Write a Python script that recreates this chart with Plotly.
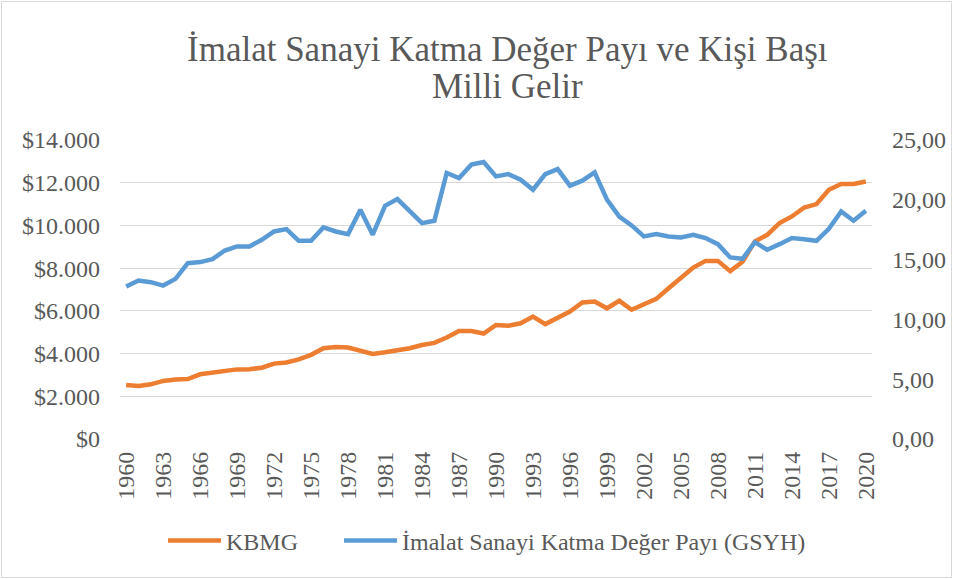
import plotly.graph_objects as go

years = list(range(1960, 2021))

kbmg = [2530, 2480, 2560, 2720, 2790, 2810, 3030, 3110, 3220, 3260,
        3270, 3340, 3530, 3580, 3730, 3940, 4250, 4310, 4280, 4120,
        3980, 4060, 4140, 4250, 4400, 4500, 4750, 5060, 5060, 4940,
        5340, 5300, 5420, 5730, 5380, 5660, 5970, 6390, 6440, 6120,
        6470, 6050, 6310, 6560, 7060, 7560, 8030, 8340, 8340, 7860,
        8300, 9250, 9560, 10110, 10420, 10840, 11000, 11670, 11940, 11940,
        12060]

imalat = [12.75, 13.25, 13.11, 12.83, 13.39, 14.70, 14.79, 15.04, 15.76, 16.10,
          16.10, 16.66, 17.35, 17.55, 16.57, 16.57, 17.69, 17.35, 17.13, 19.17,
          17.08, 19.50, 20.06, 19.08, 18.05, 18.25, 22.24, 21.82, 22.94, 23.16,
          21.96, 22.15, 21.68, 20.84, 22.15, 22.57, 21.18, 21.60, 22.29, 20.01,
          18.60, 17.86, 16.94, 17.13, 16.94, 16.85, 17.08, 16.80, 16.29, 15.18,
          15.07, 16.46, 15.82, 16.29, 16.80, 16.71, 16.57, 17.58, 19.03, 18.25,
          19.08]

title_lines = ["İmalat Sanayi Katma Değer Payı ve Kişi Başı", "Milli Gelir"]
series_names = ["KBMG", "İmalat Sanayi Katma Değer Payı (GSYH)"]
x_tickvals = list(range(1960, 2021, 3))
left_tickvals = [0, 2000, 4000, 6000, 8000, 10000, 12000, 14000]
left_ticktext = ["$0", "$2.000", "$4.000", "$6.000", "$8.000", "$10.000", "$12.000", "$14.000"]
right_tickvals = [0, 5, 10, 15, 20, 25]
right_ticktext = ["0,00", "5,00", "10,00", "15,00", "20,00", "25,00"]

FONT = "Times New Roman, Liberation Serif, serif"
GRAY = "#595959"

W, H = 953, 579
L, R, T, B = 120, 81, 140, 140
pw, ph = W - L - R, H - T - B


def py(Y):
    return (T + ph - Y) / ph


def px(X):
    return (X - L) / pw


fig = go.Figure()
fig.add_trace(go.Scatter(x=years, y=kbmg, name=series_names[0] + "\u00a0" * 6, mode="lines",
                         line=dict(color="#ED7D31", width=4.5), yaxis="y"))
fig.add_trace(go.Scatter(x=years, y=imalat, name=series_names[1],
                         mode="lines", line=dict(color="#5B9BD5", width=4.5), yaxis="y2"))

annotations = [
    dict(text=title_lines[0], xref="paper", yref="paper", x=px(507), y=py(49),
         xanchor="center", yanchor="middle", showarrow=False,
         font=dict(family=FONT, size=35, color=GRAY)),
    dict(text=title_lines[1], xref="paper", yref="paper", x=px(507), y=py(87),
         xanchor="center", yanchor="middle", showarrow=False,
         font=dict(family=FONT, size=35, color=GRAY)),
]

fig.update_layout(
    width=W, height=H,
    margin=dict(l=L, r=R, t=T, b=B, autoexpand=False),
    paper_bgcolor="white", plot_bgcolor="white",
    font=dict(family=FONT, color=GRAY, size=24),
    annotations=annotations,
    xaxis=dict(range=[1959.5, 2020.5], tickvals=x_tickvals, tickangle=-90,
               showgrid=False, zeroline=False, showline=False, ticks="",
               ticklabelstandoff=7, tickfont=dict(family=FONT, size=24), automargin=False),
    yaxis=dict(range=[0, 14000], tickvals=left_tickvals, ticktext=left_ticktext,
               showgrid=True, gridcolor="#D9D9D9", gridwidth=1.3, zeroline=False,
               showline=False, ticks="", ticklabelstandoff=19,
               tickfont=dict(family=FONT, size=24), automargin=False),
    yaxis2=dict(range=[0, 25], tickvals=right_tickvals, ticktext=right_ticktext,
                overlaying="y", side="right", showgrid=False, zeroline=False,
                showline=False, ticks="", ticklabelstandoff=19,
                tickfont=dict(family=FONT, size=24), automargin=False),
    legend=dict(orientation="h", x=px(163), xanchor="left", y=py(541),
                yanchor="middle", font=dict(family=FONT, size=24, color=GRAY),
                itemwidth=53, bgcolor="rgba(0,0,0,0)"),
    shapes=[dict(type="rect", xref="paper", yref="paper",
                 x0=px(1.5), x1=px(W - 1.5),
                 y0=py(H - 1.5), y1=py(1.5),
                 line=dict(color="#D9D9D9", width=1), fillcolor="rgba(0,0,0,0)",
                 layer="below")],
)

fig.write_html("out.html", config={"displayModeBar": False},
               post_script="document.body.style.margin='0px';document.body.style.padding='0px';")
